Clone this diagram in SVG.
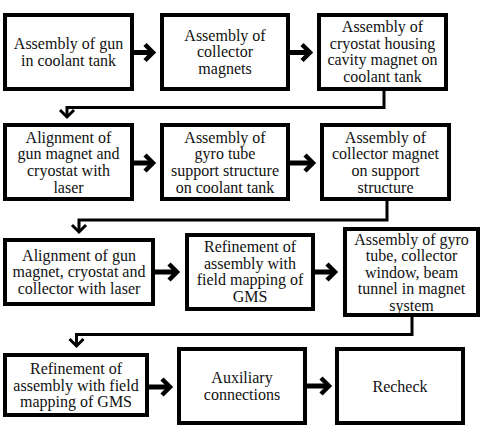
<svg xmlns="http://www.w3.org/2000/svg" width="483" height="438" viewBox="0 0 483 438">
<style>
.box{fill:#fff;stroke:#000;stroke-width:4}
.t{font-size:16px;fill:#111;text-anchor:middle}
.shaft{stroke:#000;stroke-width:5;fill:none}
.head{stroke:#000;stroke-width:4.5;fill:none;stroke-linejoin:miter;stroke-miterlimit:10}
.conn{stroke:#000;stroke-width:3;fill:none;stroke-linejoin:miter}
.dhead{stroke:#000;stroke-width:3;fill:none;stroke-linejoin:miter;stroke-miterlimit:10}
</style>
<rect width="483" height="438" fill="#fff"/>
<g font-family="Liberation Serif, DejaVu Serif, serif">
<g id="n1"><rect class="box" x="5" y="15" width="127" height="74"/>
<text class="t"><tspan x="68.5" y="49">Assembly of gun</tspan><tspan x="68.5" y="65.7">in coolant tank</tspan></text></g>
<g id="n2"><rect class="box" x="162" y="15" width="126" height="74"/>
<text class="t"><tspan x="225" y="40.5">Assembly of</tspan><tspan x="225" y="57.2">collector</tspan><tspan x="225" y="73.9">magnets</tspan></text></g>
<g id="n3"><rect class="box" x="319" y="15" width="127" height="74"/>
<text class="t"><tspan x="382.5" y="32">Assembly of</tspan><tspan x="382.5" y="48.7">cryostat housing</tspan><tspan x="382.5" y="65.4">cavity magnet on</tspan><tspan x="382.5" y="82.1">coolant tank</tspan></text></g>
<g id="n4"><rect class="box" x="5" y="125" width="127" height="74"/>
<text class="t"><tspan x="68.5" y="142.5">Alignment of</tspan><tspan x="68.5" y="159.2">gun magnet and</tspan><tspan x="68.5" y="175.9">cryostat with</tspan><tspan x="68.5" y="192.6">laser</tspan></text></g>
<g id="n5"><rect class="box" x="162" y="125" width="126" height="74"/>
<text class="t"><tspan x="225" y="142.5">Assembly of</tspan><tspan x="225" y="159.2">gyro tube</tspan><tspan x="225" y="175.9">support structure</tspan><tspan x="225" y="192.6">on coolant tank</tspan></text></g>
<g id="n6"><rect class="box" x="322" y="125" width="127" height="74"/>
<text class="t"><tspan x="385.5" y="142.5">Assembly of</tspan><tspan x="385.5" y="159.2">collector magnet</tspan><tspan x="385.5" y="175.9">on support</tspan><tspan x="385.5" y="192.6">structure</tspan></text></g>
<g id="n7"><rect class="box" x="5" y="240" width="148" height="64"/>
<text class="t"><tspan x="79" y="260.5">Alignment of gun</tspan><tspan x="79" y="277.2">magnet, cryostat and</tspan><tspan x="79" y="293.9">collector with laser</tspan></text></g>
<g id="n8"><rect class="box" x="187" y="235" width="126" height="74"/>
<text class="t"><tspan x="250" y="252">Refinement of</tspan><tspan x="250" y="268.7">assembly with</tspan><tspan x="250" y="285.4">field mapping of</tspan><tspan x="250" y="302.1">GMS</tspan></text></g>
<g id="n9"><rect class="box" x="345" y="229" width="133" height="86"/>
<text class="t"><tspan x="411.5" y="244.5">Assembly of gyro</tspan><tspan x="411.5" y="261">tube, collector</tspan><tspan x="411.5" y="277.5">window, beam</tspan><tspan x="411.5" y="294">tunnel in magnet</tspan><tspan x="411.5" y="310.5">system</tspan></text></g>
<g id="n10"><rect class="box" x="5" y="355" width="142" height="60"/>
<text class="t"><tspan x="76" y="374">Refinement of</tspan><tspan x="76" y="390.7">assembly with field</tspan><tspan x="76" y="407.4">mapping of GMS</tspan></text></g>
<g id="n11"><rect class="box" x="179" y="349" width="126" height="74"/>
<text class="t"><tspan x="242" y="383">Auxiliary</tspan><tspan x="242" y="399.7">connections</tspan></text></g>
<g id="n12"><rect class="box" x="337" y="349" width="126" height="74"/>
<text class="t"><tspan x="400" y="391.5">Recheck</tspan></text></g>
</g>
<g id="connectors">
<line class="shaft" x1="134" y1="52.5" x2="151" y2="52.5"/><polyline class="head" points="145,44.5 153,52.5 145,60.5"/>
<line class="shaft" x1="290" y1="52.5" x2="308" y2="52.5"/><polyline class="head" points="302,44.5 310,52.5 302,60.5"/>
<line class="shaft" x1="134" y1="163" x2="151" y2="163"/><polyline class="head" points="145,155 153,163 145,171"/>
<line class="shaft" x1="290" y1="163" x2="311" y2="163"/><polyline class="head" points="305,155 313,163 305,171"/>
<line class="shaft" x1="155" y1="272" x2="175" y2="272"/><polyline class="head" points="169,264 177,272 169,280"/>
<line class="shaft" x1="315" y1="272" x2="333" y2="272"/><polyline class="head" points="327,264 335,272 327,280"/>
<line class="shaft" x1="149" y1="387" x2="168" y2="387"/><polyline class="head" points="162,379 170,387 162,395"/>
<line class="shaft" x1="307" y1="386" x2="327" y2="386"/><polyline class="head" points="321,378 329,386 321,394"/>
<polyline class="conn" points="384,91 384,107.5 67,107.5 67,117"/><polyline class="dhead" points="60,110 67,117 74,110"/>
<polyline class="conn" points="387,201 387,220 79,220 79,232"/><polyline class="dhead" points="72,225 79,232 86,225"/>
<polyline class="conn" points="412,317 412,334.5 76.5,334.5 76.5,346"/><polyline class="dhead" points="69.5,339 76.5,346 83.5,339"/>
</g>
</svg>
